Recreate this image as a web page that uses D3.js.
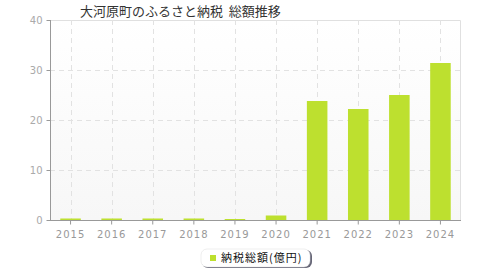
<!DOCTYPE html>
<html>
<head>
<meta charset="utf-8">
<script src="https://cdn.jsdelivr.net/npm/d3@7"></script>
<style>
  body { margin: 0; background: #fff; }
  svg { display: block; font-family: "Noto Sans CJK JP", "DejaVu Sans", sans-serif; }
</style>
</head>
<body>
<div class="box"></div>
<script>
let years = ["2015", "2016", "2017", "2018", "2019", "2020", "2021", "2022", "2023", "2024"]
let totals = [0.3, 0.3, 0.3, 0.3, 0.2, 0.9, 23.8, 22.2, 25.0, 31.4]
let yTicks = [0, 10, 20, 30, 40]
let title = "大河原町のふるさと納税  総額推移"
let seriesName = "納税総額(億円)"

let W = 480, H = 280
let pLeft = 50, pRight = 461, pTop = 20, pBottom = 220
let barColor = "#bde02f"

let svg = d3.select('.box')
  .append("svg")
  .attr("width", W)
  .attr("height", H)

let defs = svg.append("defs")
let grad = defs.append("linearGradient").attr("id", "bg").attr("x1", 0).attr("y1", 0).attr("x2", 0).attr("y2", 1)
grad.append("stop").attr("offset", "0%").attr("stop-color", "#ffffff")
grad.append("stop").attr("offset", "100%").attr("stop-color", "#f7f7f7")

let x = d3.scaleBand().domain(years).range([pLeft, pRight]).paddingInner(0.5).paddingOuter(0.25)
let y = d3.scaleLinear().domain([0, 40]).range([pBottom, pTop])

// plot background
svg.append("rect")
  .attr("x", pLeft).attr("y", pTop)
  .attr("width", pRight - pLeft).attr("height", pBottom - pTop)
  .style("fill", "url(#bg)")

// right/top border
svg.append("path")
  .attr("d", `M${pLeft},${pTop + 0.5}H${pRight - 0.5}V${pBottom}`)
  .style("fill", "none").style("stroke", "#e0e0e0").style("stroke-width", 1)

// horizontal grid
svg.append("g").selectAll("line").data(yTicks.filter(d => d > 0 && d < 40)).join("line")
  .attr("x1", pLeft).attr("x2", pRight)
  .attr("y1", d => Math.round(y(d)) + 0.5).attr("y2", d => Math.round(y(d)) + 0.5)
  .style("stroke", "#e2e2e2").style("stroke-dasharray", "5,4")

// vertical grid
svg.append("g").selectAll("line").data(years).join("line")
  .attr("x1", d => Math.round(x(d) + x.bandwidth() / 2) + 0.5)
  .attr("x2", d => Math.round(x(d) + x.bandwidth() / 2) + 0.5)
  .attr("y1", pTop).attr("y2", pBottom)
  .style("stroke", "#e2e2e2").style("stroke-dasharray", "5,4")

// bars
svg.append("g").selectAll("rect").data(years).join("rect")
  .attr("x", d => x(d))
  .attr("width", x.bandwidth())
  .attr("y", (d, i) => y(totals[i]))
  .attr("height", (d, i) => y(0) - y(totals[i]))
  .style("fill", barColor)

// y axis
let yAxis = svg.append("g")
  .attr("transform", `translate(${pLeft + 0.5},0)`)
  .call(d3.axisLeft(y).tickValues(yTicks).tickSize(4).tickPadding(4))
yAxis.select(".domain").style("stroke", "#999").attr("d", `M-0,${pTop}V${pBottom}`)
yAxis.selectAll(".tick line").style("stroke", "#999")
yAxis.selectAll("text").style("fill", "#aaa").style("font-size", "10px").style("font-family", "DejaVu Sans, sans-serif")

// x axis
let xAxis = svg.append("g")
  .attr("transform", `translate(0,${pBottom + 0.5})`)
  .call(d3.axisBottom(x).tickSize(4).tickPadding(6))
xAxis.select(".domain").style("stroke", "#999").attr("d", `M${pLeft},0H${pRight}`)
xAxis.selectAll(".tick line").style("stroke", "#999")
xAxis.selectAll("text").style("fill", "#999").style("font-size", "10px")
  .style("letter-spacing", "1px").style("font-family", "DejaVu Sans, sans-serif")

// title
svg.append("text")
  .attr("x", 80).attr("y", 16)
  .style("font-size", "13px").style("fill", "#333").style("white-space", "pre")
  .text(title)

// legend
let lg = svg.append("g")
lg.append("rect")
  .attr("x", 202).attr("y", 250).attr("width", 110).attr("height", 18).attr("rx", 6)
  .style("fill", "#667")
lg.append("rect")
  .attr("x", 201).attr("y", 249).attr("width", 109).attr("height", 18).attr("rx", 6)
  .style("fill", "#fff").style("stroke", "#ddd").style("stroke-width", 0.5)
lg.append("rect")
  .attr("x", 210).attr("y", 255).attr("width", 6).attr("height", 6)
  .style("fill", barColor)
lg.append("text")
  .attr("x", 221).attr("y", 262)
  .style("font-size", "11px").style("fill", "#111").style("letter-spacing", "1px")
  .text(seriesName)
</script>
</body>
</html>
